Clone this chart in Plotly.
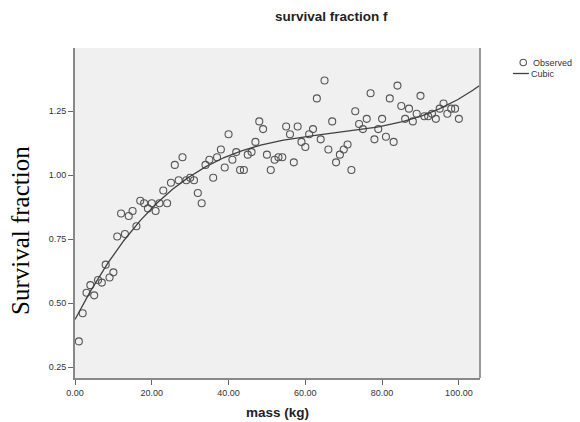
import numpy as np
import plotly.graph_objects as go

mass = list(range(1, 101))
survival = [
    0.35, 0.46, 0.54, 0.57, 0.53, 0.59, 0.58, 0.65, 0.60, 0.62,
    0.76, 0.85, 0.77, 0.84, 0.86, 0.80, 0.90, 0.89, 0.87, 0.89,
    0.86, 0.89, 0.94, 0.89, 0.97, 1.04, 0.98, 1.07, 0.98, 0.99,
    0.98, 0.93, 0.89, 1.04, 1.06, 0.99, 1.07, 1.10, 1.03, 1.16,
    1.06, 1.09, 1.02, 1.02, 1.08, 1.09, 1.13, 1.21, 1.18, 1.08,
    1.02, 1.06, 1.07, 1.07, 1.19, 1.16, 1.05, 1.19, 1.13, 1.11,
    1.16, 1.18, 1.30, 1.14, 1.37, 1.10, 1.21, 1.05, 1.08, 1.10,
    1.12, 1.02, 1.25, 1.20, 1.18, 1.22, 1.32, 1.14, 1.18, 1.22,
    1.15, 1.30, 1.13, 1.35, 1.27, 1.22, 1.26, 1.21, 1.24, 1.31,
    1.23, 1.23, 1.24, 1.22, 1.26, 1.28, 1.24, 1.26, 1.26, 1.22,
]
x_ticks = [0, 20, 40, 60, 80, 100]
x_tick_labels = ["0.00", "20.00", "40.00", "60.00", "80.00", "100.00"]
y_ticks = [0.25, 0.50, 0.75, 1.00, 1.25]
y_tick_labels = ["0.25", "0.50", "0.75", "1.00", "1.25"]
legend_names = ["Observed", "Cubic"]

x_range = [0, 105.5]
y_range = [0.207, 1.497]

coef = np.polyfit(mass, survival, 3)
fit_x = np.linspace(x_range[0], x_range[1], 300)
fit_y = np.polyval(coef, fit_x)

W, H = 580, 422
L, R, T, B = 75, 100, 48, 44
PW, PH = W - L - R, H - T - B


def px(xp):
    return (xp - L) / PW


def py(yp):
    return (H - B - yp) / PH


fig = go.Figure()
fig.add_trace(go.Scatter(
    x=mass, y=survival, mode="markers", name=legend_names[0],
    marker=dict(symbol="circle-open", size=7, color="#555555", line=dict(width=1.1, color="#555555")),
))
fig.add_trace(go.Scatter(
    x=fit_x, y=fit_y, mode="lines", name=legend_names[1],
    line=dict(color="#404040", width=1.3),
))

fig.update_layout(
    width=W, height=H,
    margin=dict(l=L, r=R, t=T, b=B),
    paper_bgcolor="white",
    plot_bgcolor="#f0f0f0",
    font=dict(family="Arial, Liberation Sans, sans-serif", size=9, color="#333333"),
    showlegend=False,
    annotations=[
        dict(text="<b>survival fraction f</b>", xref="paper", yref="paper",
             x=px(331), y=py(17), xanchor="center", yanchor="middle",
             showarrow=False, font=dict(size=13.5, color="#222222")),
        dict(text="<b>mass (kg)</b>", xref="paper", yref="paper",
             x=px(277), y=py(413), xanchor="center", yanchor="middle",
             showarrow=False, font=dict(size=13.5, color="#222222")),
        dict(text="Survival fraction", xref="paper", yref="paper",
             x=px(20), y=py(231), xanchor="center", yanchor="middle",
             textangle=-90, showarrow=False,
             font=dict(family="Liberation Serif, Times New Roman, serif", size=25, color="#000000")),
        dict(text=legend_names[0], xref="paper", yref="paper",
             x=px(531), y=py(62.5), xanchor="left", yanchor="middle",
             showarrow=False, font=dict(size=9, color="#333333")),
        dict(text=legend_names[1], xref="paper", yref="paper",
             x=px(529), y=py(74), xanchor="left", yanchor="middle",
             showarrow=False, font=dict(size=9, color="#333333")),
    ],
    shapes=[
        dict(type="line", xref="paper", yref="paper", x0=1, x1=1, y0=0, y1=1,
             line=dict(color="#999999", width=2)),
        dict(type="circle", xref="paper", yref="paper",
             x0=px(520), x1=px(526.5), y0=py(59.3), y1=py(65.8),
             line=dict(color="#555555", width=1.1)),
        dict(type="line", xref="paper", yref="paper",
             x0=px(513), x1=px(529), y0=py(73.5), y1=py(73.5),
             line=dict(color="#404040", width=1.3)),
    ],
)
fig.update_xaxes(
    range=x_range, tickvals=x_ticks, ticktext=x_tick_labels,
    showgrid=False, zeroline=False, showline=True, linecolor="#888888", linewidth=2,
    ticks="outside", ticklen=5, tickcolor="#666666", tickfont=dict(size=9, color="#333333"),
)
fig.update_yaxes(
    range=y_range, tickvals=y_ticks, ticktext=y_tick_labels,
    showgrid=False, zeroline=False, showline=True, linecolor="#888888", linewidth=2,
    ticks="outside", ticklen=5, tickcolor="#666666", tickfont=dict(size=9, color="#333333"),
)

fig.write_html("out.html")
